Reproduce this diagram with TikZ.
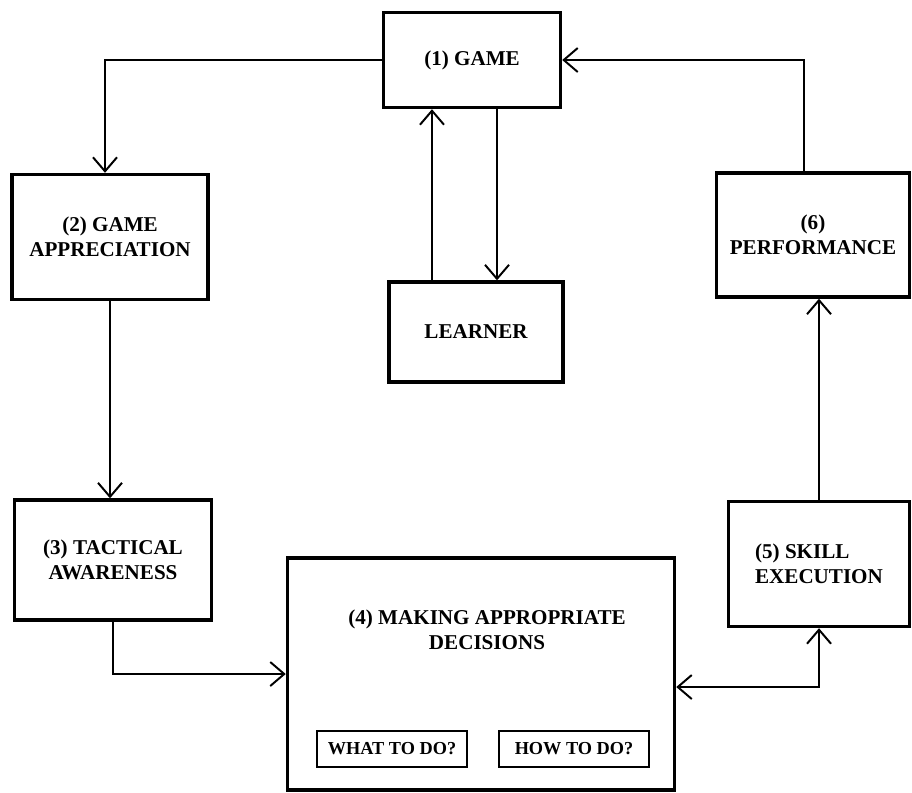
\documentclass[tikz,border=0pt]{standalone}
\usepackage{fontspec}
\setmainfont{Liberation Serif}
\usetikzlibrary{arrows.meta}
\begin{document}
\begin{tikzpicture}[x=0.025cm,y=-0.025cm,
		box/.style={draw,line width=2.4pt,align=center,font=\bfseries\fontsize{15}{17.5}\selectfont},
		small/.style={draw,line width=1.8pt,font=\bfseries\fontsize{13}{15}\selectfont,minimum width=3.75cm,minimum height=0.9cm},
		link/.style={line width=1.4pt,->},
		>={Straight Barb[length=3.5mm,width=6mm]}]
			\useasboundingbox (0,0) rectangle (912,792);
			\node (game) at (472,60) [box,minimum width=4.425cm,minimum height=2.375cm] {(1) GAME};
			\node (appr) at (110,237) [box,minimum width=4.9cm,minimum height=3.125cm] {(2) GAME\\APPRECIATION};
			\node (learner) at (476,332) [box,minimum width=4.35cm,minimum height=2.5cm] {LEARNER};
			\node (perf) at (813,235) [box,minimum width=4.825cm,minimum height=3.1cm] {(6)\\PERFORMANCE};
			\node (tact) at (113,560) [box,minimum width=4.925cm,minimum height=3cm] {(3) TACTICAL\\AWARENESS};
			\node (skill) at (819,564) [box,minimum width=4.525cm,minimum height=3.125cm,align=left] {(5) SKILL\\EXECUTION};
			\node (make) at (481,674) [box,minimum width=9.675cm,minimum height=5.8cm] {};
			\node (maketxt) at (487,630) [font=\bfseries\fontsize{15}{17.5}\selectfont,align=center] {(4) MAKING APPROPRIATE\\DECISIONS};
			\node (what) at (392,749) [small] {WHAT TO DO?};
			\node (how) at (574,749) [small] {HOW TO DO?};
			\draw[link] (game.west) -| ([xshift=-0.125cm]appr.north);
			\draw[link] ([xshift=-1.1cm]learner.north) -- ([xshift=-1.1cm]learner.north |- game.south);
			\draw[link] ([xshift=0.625cm]game.south) -- ([xshift=0.625cm]game.south |- learner.north);
			\draw[link] ([xshift=-0.225cm]perf.north) |- (game.east);
			\draw[link] (appr.south) -- (appr.south |- tact.north);
			\draw[link] (tact.south) |- (make.west);
			\draw[link,<->] ([yshift=-0.325cm]make.east) -| (skill.south);
			\draw[link] (skill.north) -- (skill.north |- perf.south);
		\end{tikzpicture}
\end{document}
